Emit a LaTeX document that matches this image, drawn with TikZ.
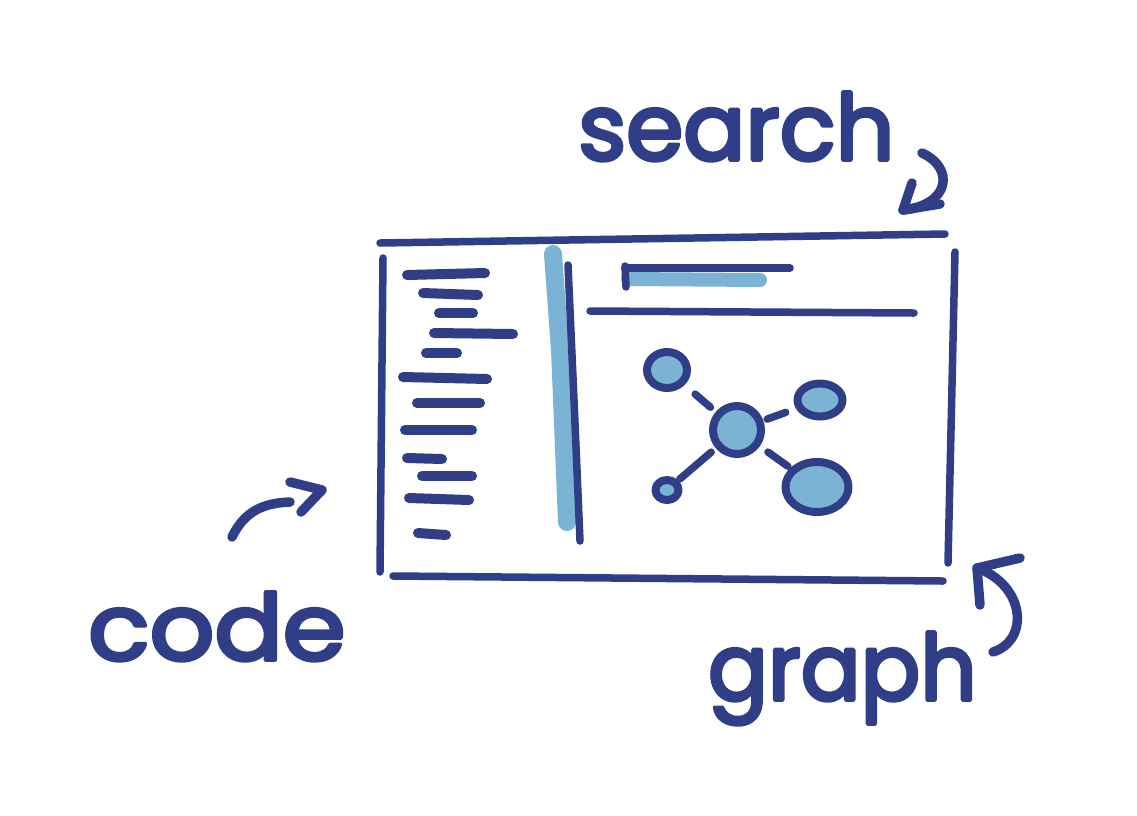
\documentclass[tikz,border=0pt]{standalone}
\usepackage{fontspec}
\newfontfamily\hand{Poppins}[FakeBold=4]
\usetikzlibrary{shapes.geometric}
\definecolor{ink}{HTML}{2F3E86}
\definecolor{lite}{HTML}{7AB3D3}
\begin{document}
\begin{tikzpicture}[x=1pt,y=-1pt, line cap=round, line join=round,
  frameline/.style={draw=ink, line width=7.5pt},
  codeline/.style={draw=ink, line width=10pt},
  gnode/.style={ellipse, draw=ink, fill=lite, line width=8pt, inner sep=0pt},
  gedge/.style={draw=ink, line width=7.5pt},
  hand label/.style={text=ink, font=\hand\fontsize{92}{100}\selectfont, inner sep=0pt},
  sketcharrow/.style={draw=ink, line width=9.5pt}]
\useasboundingbox (0,0) rectangle (1137,815);
% window frame
\draw[frameline] (380,243) -- (945,234);
\draw[frameline] (383,258) -- (380,572);
\draw[frameline] (393,576) -- (943,581);
\draw[frameline] (955,252) -- (948,563);
% sidebar
\draw[draw=lite, line width=18pt] (553,254) -- (560,350) -- (567,522);
\draw[frameline] (568,265) -- (574,400) -- (580,541);
% code lines
\draw[codeline] (407,275) -- (485,273);
\draw[codeline] (423,293) -- (478,295);
\draw[codeline] (439,313) -- (473,313);
\draw[codeline] (434,333) -- (513,334);
\draw[codeline] (426,353) -- (457,353);
\draw[codeline] (403,377) -- (487,379);
\draw[codeline] (417,403) -- (480,403);
\draw[codeline] (405,430) -- (472,430);
\draw[codeline] (407,458) -- (442,459);
\draw[codeline] (422,476) -- (472,476);
\draw[codeline] (409,498) -- (469,500);
\draw[codeline] (418,533) -- (446,535);
% search bar
\draw[draw=lite, line width=14pt] (628,279) -- (760,280);
\draw[frameline] (625,268) -- (790,268);
\draw[frameline] (625,266) -- (626,287);
\draw[frameline] (590,311) -- (914,313);
% graph
\node[gnode, minimum width=40pt, minimum height=36pt] (n1) at (667,370) {};
\node[gnode, minimum width=48pt, minimum height=48pt] (n0) at (737,430) {};
\node[gnode, minimum width=45pt, minimum height=33pt] (n2) at (820,400) {};
\node[gnode, minimum width=23pt, minimum height=20pt] (n3) at (667,490) {};
\node[gnode, minimum width=63pt, minimum height=50pt] (n4) at (817,487) {};
\draw[gedge, shorten <=14pt, shorten >=7pt] (n1) -- (n0);
\draw[gedge, shorten <=4pt, shorten >=11pt] (n0) -- (n2);
\draw[gedge, shorten <=6pt, shorten >=2pt] (n0) -- (n3);
\draw[gedge, shorten <=10pt, shorten >=3pt] (n0) -- (n4);
% labels
\node[hand label, anchor=base west] (search) at (578,160) {search};
\node[hand label, anchor=base west, xscale=1.1] (code) at (88,660) {code};
\node[hand label, anchor=base west, xscale=0.96] (graph) at (708,700) {graph};
% arrows
\coordinate (searchtip) at (903,210);
\draw[sketcharrow] (922,153) .. controls (955,168) and (950,205) .. (searchtip);
\draw[sketcharrow] (912,183) -- (searchtip) -- (940,204);
\coordinate (codetip) at (322,490);
\draw[sketcharrow] (232,537) .. controls (245,510) and (265,503) .. (290,502);
\draw[sketcharrow] (290,482) -- (codetip) -- (301,512);
\coordinate (graphtip) at (977,568);
\draw[sketcharrow] (993,652) .. controls (1030,640) and (1025,585) .. (graphtip);
\draw[sketcharrow] (1020,558) -- (graphtip) -- (980,605);
\end{tikzpicture}
\end{document}
